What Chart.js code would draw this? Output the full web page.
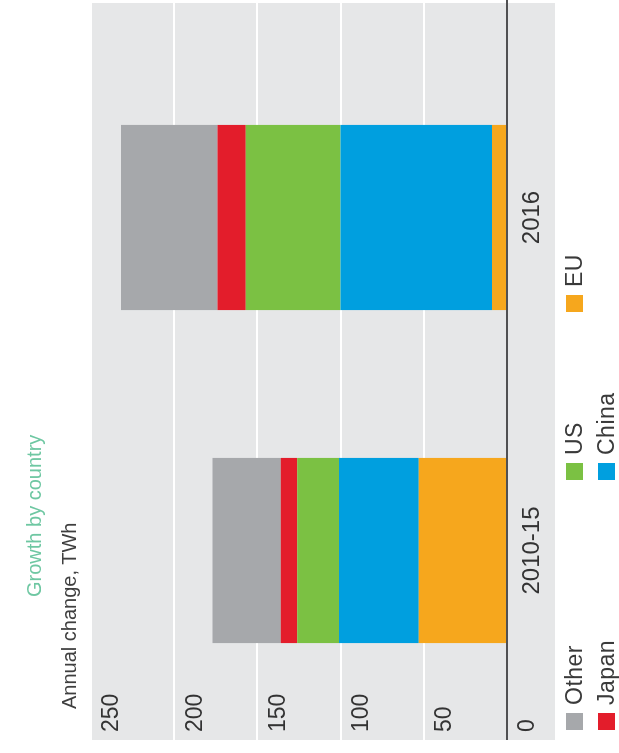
<!DOCTYPE html>
<html>
<head>
<meta charset="utf-8">
<script src="https://cdn.jsdelivr.net/npm/chart.js@4"></script>
<style>
  html, body { margin: 0; padding: 0; background: #fff; overflow: hidden; }
  body { width: 619px; height: 753px; position: relative; }
  /* the chart is laid out upright, then turned a quarter turn to the left */
  #frame {
    position: absolute; left: 0; top: 0;
    width: 753px; height: 619px;
    transform-origin: 0 0;
    transform: translate(0, 753px) rotate(-90deg);
    font-family: 'Liberation Sans', Arial, sans-serif;
    filter: blur(0.5px);
  }
  #chart { position: absolute; left: 0; top: 0; }
  .title { position: absolute; left: 156px; top: 23px; font-size: 20px; color: #6ec7a2; white-space: nowrap; }
  .subtitle { position: absolute; left: 44px; top: 58px; font-size: 20px; color: #3f3f3f; white-space: nowrap; }
  .item { position: absolute; font-size: 23px; line-height: 26px; color: #3a3a3a; white-space: nowrap; letter-spacing: 0.5px; }
  .item i { display: inline-block; width: 17px; height: 17px; margin-right: 8px; vertical-align: -1px; }
</style>
</head>
<body>
<div id="frame">
  <canvas id="chart" width="753" height="619"></canvas>
  <div class="title">Growth by country</div>
  <div class="subtitle">Annual change, TWh</div>
  <div id="legend"></div>
</div>
<script>
const periods = ['2010-15', '2016'];
const euValues = [53, 9];
const chinaValues = [48, 91];
const usValues = [25, 57];
const japanValues = [10, 17];
const otherValues = [41, 58];
const yTicks = [0, 50, 100, 150, 200, 250];

const FONT = "'Liberation Sans', Arial, sans-serif";

// grey panel, white gridlines and the zero line reach past the bar area
const panel = {
    id: 'panel',
    beforeDraw(chart) {
        const { ctx, chartArea, scales: { y } } = chart;
        const left = 13, right = 750;
        ctx.save();
        ctx.fillStyle = '#e6e7e8';
        ctx.fillRect(left, chartArea.top, right - left, chartArea.bottom + 48 - chartArea.top);
        ctx.strokeStyle = '#ffffff';
        ctx.lineWidth = 2;
        y.ticks.forEach(t => {
            if (t.value === 0) return;
            const py = Math.round(y.getPixelForValue(t.value));
            ctx.beginPath();
            ctx.moveTo(left, py);
            ctx.lineTo(right, py);
            ctx.stroke();
        });
        ctx.restore();
    },
    afterDatasetsDraw(chart) {
        const { ctx, scales: { y } } = chart;
        const py = Math.round(y.getPixelForValue(0));
        ctx.save();
        ctx.strokeStyle = '#505052';
        ctx.lineWidth = 2;
        ctx.beginPath();
        ctx.moveTo(13, py);
        ctx.lineTo(753, py);
        ctx.stroke();
        ctx.restore();
    }
};

const chart = new Chart(document.getElementById('chart'), {
    type: 'bar',
    data: {
        labels: periods,
        datasets: [
            { label: 'EU', data: euValues, backgroundColor: '#f6a71d' },
            { label: 'China', data: chinaValues, backgroundColor: '#009fdf' },
            { label: 'US', data: usValues, backgroundColor: '#7bc143' },
            { label: 'Japan', data: japanValues, backgroundColor: '#e31d2b' },
            { label: 'Other', data: otherValues, backgroundColor: '#a6a8ab' }
        ]
    },
    options: {
        responsive: false,
        animation: false,
        devicePixelRatio: 1,
        layout: { padding: { top: 91, left: 21, right: 51, bottom: 64 } },
        datasets: { bar: { barPercentage: 1, categoryPercentage: 0.556 } },
        plugins: {
            legend: { display: false },
            tooltip: { enabled: false }
        },
        scales: {
            x: {
                stacked: true,
                grid: { display: false, drawTicks: false },
                border: { display: false },
                ticks: { padding: 11, color: '#333', font: { size: 24, family: FONT } },
                afterFit: s => { s.height = 48; }
            },
            y: {
                stacked: true,
                min: 0,
                max: 250,
                afterBuildTicks: s => { s.ticks = yTicks.map(v => ({ value: v })); },
                grid: { display: false, drawTicks: false },
                border: { display: false },
                // mirrored so the labels are not clipped to the narrow axis box
                ticks: { mirror: true, labelOffset: 21, padding: -15, color: '#333', font: { size: 23, family: FONT } },
                afterFit: s => { s.width = 15; }
            }
        }
    },
    plugins: [panel]
});

// legend in three columns: Other/Japan, US/China, EU
const legendSlots = { Other: [23, 574], Japan: [23, 606], US: [273, 574], China: [273, 606], EU: [441, 574] };
const legend = document.getElementById('legend');
chart.data.datasets.forEach(ds => {
    const [x, y] = legendSlots[ds.label];
    const el = document.createElement('div');
    el.className = 'item';
    el.style.left = x + 'px';
    el.style.top = (y - 13) + 'px';
    el.innerHTML = '<i style="background:' + ds.backgroundColor + '"></i>' + ds.label;
    legend.appendChild(el);
});
</script>
</body>
</html>
